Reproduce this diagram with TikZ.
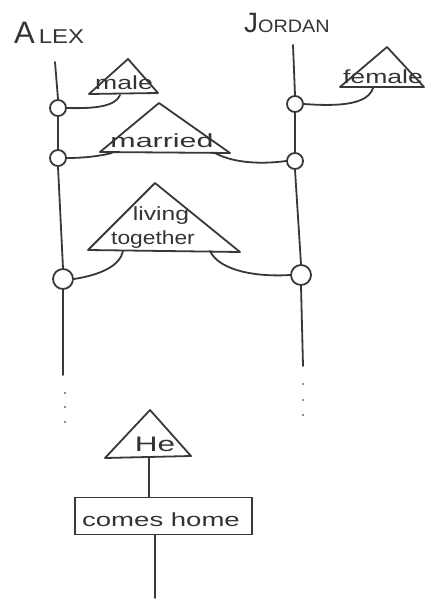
\documentclass[tikz,border=0pt]{standalone}
\usepackage{fontspec}
\setmainfont{Liberation Sans}
\newcommand{\wide}[2][1.45]{\scalebox{#1}[1]{#2}}
\tikzset{
  ink/.style={line width=1.8pt, draw=black!78, line cap=round, line join=round},
  ring/.style={circle, ink, inner sep=0pt, minimum size=#1},
  ring/.default=16pt,
  lbl/.style={text=black!80, inner sep=0pt, font=\fontsize{19}{21}\selectfont},
  inlbl/.style={lbl, anchor=base},
  dot/.style={circle, fill=black!60, inner sep=0pt, minimum size=2.4pt},
  boxnode/.style={draw=black!78, line width=1.8pt, inner sep=0pt, minimum width=177pt, minimum height=37pt}
}
\begin{document}
\begin{tikzpicture}[x=1pt,y=-1pt]
\useasboundingbox (0,0) rectangle (427,601);
% names
\node[lbl, anchor=base west] (alex) at (14,44) {\fontsize{31}{33}\selectfont A\hspace{4pt}\fontsize{20}{22}\selectfont\wide[1.2]{LEX}};
\node[lbl, anchor=base west] (jordan) at (244,33) {\fontsize{28}{30}\selectfont J\fontsize{18}{20}\selectfont\wide[1.1]{ORDAN}};
% Alex lifeline
\coordinate (atop) at (55,62);
\node[ring] (a1) at (58,108) {};
\node[ring] (a2) at (58,158) {};
\node[ring=20pt] (a3) at (63,279) {};
\coordinate (abot) at (63,375);
\draw[ink] (atop) -- (a1.north);
\draw[ink] (a1.south) -- (a2.north);
\draw[ink] (a2.south) -- (a3.north);
\draw[ink] (a3.south) -- (abot);
\node[dot] (ad1) at (65,393) {};
\node[dot] (ad2) at (65,407) {};
\node[dot] (ad3) at (65,422) {};
% Jordan lifeline
\coordinate (jtop) at (293,45);
\node[ring] (j1) at (295,104) {};
\node[ring] (j2) at (295,161) {};
\node[ring=20pt] (j3) at (301,275) {};
\coordinate (jbot) at (303,366);
\draw[ink] (jtop) -- (j1.north);
\draw[ink] (j1.south) -- (j2.north);
\draw[ink] (j2.south) -- (j3.north);
\draw[ink] (j3.south) -- (jbot);
\node[dot] (jd1) at (303,384) {};
\node[dot] (jd2) at (303,400) {};
\node[dot] (jd3) at (303,415) {};
% male
\coordinate (mA) at (128,59);
\coordinate (mL) at (89,94);
\coordinate (mR) at (158,93);
\draw[ink] (mL) -- (mA) -- (mR) -- cycle;
\node[inlbl] (male) at (124,90) {\wide[1.4]{male}};
\coordinate (mC) at (120,95);
\draw[ink] (a1.east) .. controls (100,109) and (116,105) .. (mC);
% female
\coordinate (fA) at (387,47);
\coordinate (fL) at (340,87);
\coordinate (fR) at (424,87);
\draw[ink] (fL) -- (fA) -- (fR) -- cycle;
\node[inlbl] (female) at (383,84) {\wide[1.4]{female}};
\coordinate (fC) at (373,88);
\draw[ink] (j1.east) .. controls (345,107) and (368,103) .. (fC);
% married
\coordinate (rA) at (159,103);
\coordinate (rL) at (100,152);
\coordinate (rR) at (230,153);
\draw[ink] (rL) -- (rA) -- (rR) -- cycle;
\node[inlbl] (married) at (162,148) {\wide[1.6]{married}};
\coordinate (rC1) at (112,153);
\coordinate (rC2) at (215,153);
\draw[ink] (a2.east) .. controls (85,158) and (100,156) .. (rC1);
\draw[ink] (rC2) .. controls (235,164) and (265,164) .. (j2.west);
% living together
\coordinate (lA) at (155,183);
\coordinate (lL) at (88,250);
\coordinate (lR) at (240,252);
\draw[ink] (lL) -- (lA) -- (lR) -- cycle;
\node[inlbl] (living) at (161,221) {\wide[1.3]{living}};
\node[inlbl] (together) at (153,244) {\wide[1.2]{together}};
\coordinate (lC1) at (123,251);
\coordinate (lC2) at (210,251);
\draw[ink] (a3.east) .. controls (100,275) and (120,266) .. (lC1);
\draw[ink] (lC2) .. controls (220,272) and (260,277) .. (j3.west);
% He
\coordinate (hA) at (150,410);
\coordinate (hL) at (105,458);
\coordinate (hR) at (191,456);
\draw[ink] (hL) -- (hA) -- (hR) -- cycle;
\node[inlbl, font=\fontsize{21}{23}\selectfont] (he) at (155,451) {\wide[1.5]{He}};
\coordinate (hC) at (149,457);
% comes home
\node[boxnode, draw=black!78] (comes) at (163.5,516) {};
\node[inlbl] (comestxt) at (161,526) {\wide[1.45]{comes home}};
\coordinate (cend) at (155,598);
\draw[ink] (hC) -- (comes.north -| hC);
\draw[ink] (comes.south -| cend) -- (cend);
\end{tikzpicture}
\end{document}
